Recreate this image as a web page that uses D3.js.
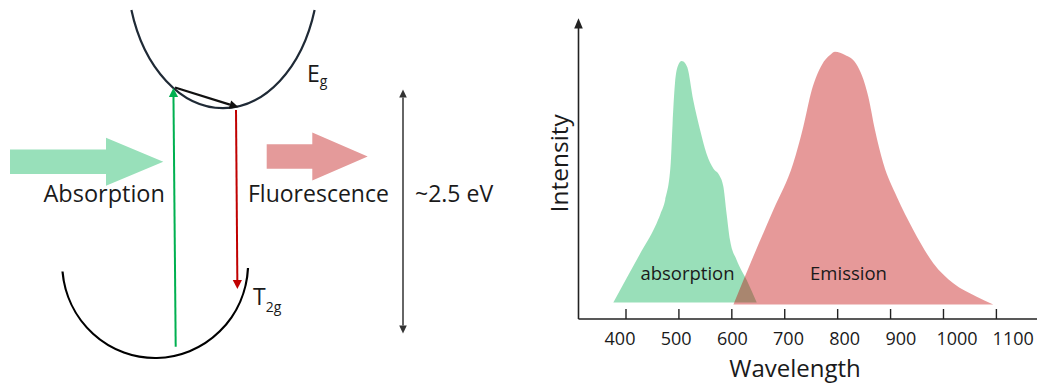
<!DOCTYPE html>
<html>
<head>
<meta charset="utf-8">
<script src="https://cdn.jsdelivr.net/npm/d3@7"></script>
<style>
  html, body { margin: 0; padding: 0; background: #fff; }
  svg { display: block; font-family: "Open Sans", "Noto Sans", sans-serif; }
</style>
</head>
<body>
<svg id="fig" width="1037" height="385"></svg>
<script>
// ---- spectrum data: [wavelength (nm), intensity (a.u.)] ----
const absorptionWavelength = [377, 427, 456, 466, 475, 485, 489, 493.5, 499.7, 506, 513, 517, 528, 541, 553, 566, 577, 585, 591, 597.5, 610, 629, 648];
const absorptionIntensity  = [5.5, 21.6, 30.8, 35, 39.7, 50.8, 65.2, 78.6, 84.7, 86, 85.2, 83.8, 73, 63, 55.2, 50.2, 48, 44.1, 35.2, 26.3, 19.7, 13, 5.5];
const absorptionBase = 5.5;

const emissionWavelength = [604, 641.5, 679.3, 717, 736, 752, 771, 786.5, 796, 815, 835.5, 858.9, 871.5, 887.2, 912.5, 943.9, 981.7, 1019.5, 1063.8, 1095];
const emissionIntensity  = [4.8, 20.8, 36.3, 51.9, 64.1, 76.3, 84.7, 88, 89.1, 88, 85.2, 74.1, 63, 51.9, 40.8, 29.7, 18.6, 11.9, 7.4, 4.8];
const emissionBase = 4.8;

const wavelengthTicks = [400, 500, 600, 700, 800, 900, 1000, 1100];

const svg = d3.select("#fig");
const ink = "#1a1a1a";

// ================= energy-level diagram (left) =================
const diag = svg.append("g");

// Block arrows for incoming light and emitted light
function blockArrow(g, x0, xNeck, xTip, yMid, shaftHalf, headHalf, fill) {
  const pts = [
    [x0, yMid - shaftHalf], [xNeck, yMid - shaftHalf], [xNeck, yMid - headHalf],
    [xTip, yMid], [xNeck, yMid + headHalf], [xNeck, yMid + shaftHalf], [x0, yMid + shaftHalf]
  ];
  g.append("path").attr("d", d3.line()(pts) + "Z").attr("fill", fill);
}
blockArrow(diag, 10, 106, 163.3, 161.7, 12.2, 24, "#98e0ba");
blockArrow(diag, 266.7, 312.3, 367.7, 156.5, 12.2, 24, "#e49a9a");

// Potential curves (elliptical wells)
diag.append("path")
  .attr("d", "M131.4,10 A96,140 0 0,0 314.6,10")
  .attr("fill", "none").attr("stroke", "#1f2a36").attr("stroke-width", 2.2);
diag.append("path")
  .attr("d", "M62.5,271.5 A93,95 0 0,0 248,268")
  .attr("fill", "none").attr("stroke", "#000").attr("stroke-width", 2.2);

// Straight arrow with a filled triangular head at the end point
function lineArrow(g, x1, y1, x2, y2, color, width, headLen, headHalf, both) {
  const dx = x2 - x1, dy = y2 - y1, L = Math.hypot(dx, dy);
  const ux = dx / L, uy = dy / L, nx = -uy, ny = ux;
  const sx = both ? x1 + ux * headLen : x1, sy = both ? y1 + uy * headLen : y1;
  g.append("line")
    .attr("x1", sx).attr("y1", sy)
    .attr("x2", x2 - ux * headLen).attr("y2", y2 - uy * headLen)
    .attr("stroke", color).attr("stroke-width", width);
  const head = (tx, ty, ax, ay) => {
    const bx = tx - ax * headLen, by = ty - ay * headLen;
    g.append("path")
      .attr("d", d3.line()([[tx, ty], [bx + nx * headHalf, by + ny * headHalf], [bx - nx * headHalf, by - ny * headHalf]]) + "Z")
      .attr("fill", color);
  };
  head(x2, y2, ux, uy);
  if (both) head(x1, y1, -ux, -uy);
}
lineArrow(diag, 175.7, 346.7, 173.4, 88, "#00b050", 2, 9, 4.6, false);
lineArrow(diag, 236, 110, 237.4, 289, "#c00000", 2, 9, 4.6, false);
lineArrow(diag, 175, 87.5, 238.5, 107.3, "#111", 2.2, 9, 4.3, false);
lineArrow(diag, 403, 333.5, 403, 89.5, "#333", 1.5, 8, 3.8, true);

// Labels
const label = (x, y, t, size) => diag.append("text")
  .attr("x", x).attr("y", y).attr("font-size", size).attr("fill", ink).text(t);
label(43.5, 201.5, "Absorption", 23.5);
label(248, 201.5, "Fluorescence", 23);
label(415, 201.5, "~2.5 eV", 23);

const eg = diag.append("text").attr("x", 307).attr("y", 81.7).attr("font-size", 23).attr("fill", ink);
eg.append("tspan").text("E");
eg.append("tspan").attr("font-size", 14).attr("dy", 4.5).text("g");

const t2g = diag.append("text").attr("x", 253).attr("y", 305).attr("font-size", 23).attr("fill", ink);
t2g.append("tspan").text("T");
t2g.append("tspan").attr("font-size", 14).attr("dy", 6.5).text("2g");

// ================= spectra (right) =================
const x = d3.scaleLinear().domain([400, 1100]).range([625.5, 995.9]);
const xLabel = d3.scaleLinear().domain([400, 1100]).range([619.5, 1012.7]);
const y = d3.scaleLinear().domain([0, 100]).range([319, 19]);
const axisLeftX = 578.5;

const absorption = absorptionWavelength.map((w, i) => ({ w, v: absorptionIntensity[i] }));
const emission = emissionWavelength.map((w, i) => ({ w, v: emissionIntensity[i] }));

const areaFor = base => d3.area()
  .x(d => x(d.w)).y0(y(base)).y1(d => y(d.v))
  .curve(d3.curveMonotoneX);

const plot = svg.append("g");
plot.append("path").datum(absorption).attr("d", areaFor(absorptionBase))
  .attr("fill", "rgb(0,176,80)").attr("fill-opacity", 0.4);
plot.append("path").datum(emission).attr("d", areaFor(emissionBase))
  .attr("fill", "rgb(192,0,0)").attr("fill-opacity", 0.4);

plot.append("text").attr("x", 687.5).attr("y", 280).attr("text-anchor", "middle")
  .attr("font-size", 18.5).attr("fill", ink).text("absorption");
plot.append("text").attr("x", 848.5).attr("y", 280).attr("text-anchor", "middle")
  .attr("font-size", 18.5).attr("fill", ink).text("Emission");

// Axes
const axisColor = "#222";
plot.append("line").attr("x1", axisLeftX).attr("x2", 1037).attr("y1", y(0)).attr("y2", y(0))
  .attr("stroke", axisColor).attr("stroke-width", 1.6);
plot.append("line").attr("x1", axisLeftX).attr("x2", axisLeftX).attr("y1", y(0)).attr("y2", y(100) + 9)
  .attr("stroke", axisColor).attr("stroke-width", 1.6);
plot.append("path")
  .attr("d", d3.line()([[axisLeftX, y(100) - 0.7], [axisLeftX - 4.3, y(100) + 9.5], [axisLeftX + 4.3, y(100) + 9.5]]) + "Z")
  .attr("fill", axisColor);

const tickAxis = plot.append("g").attr("transform", `translate(0,${y(0)})`)
  .call(d3.axisBottom(x).tickValues(wavelengthTicks).tickSize(-10).tickFormat(""));
tickAxis.select(".domain").remove();
tickAxis.selectAll(".tick line").attr("stroke", axisColor).attr("stroke-width", 1.4);

const labelAxis = plot.append("g").attr("transform", `translate(0,${y(0)})`)
  .call(d3.axisBottom(xLabel).tickValues(wavelengthTicks).tickSize(0).tickPadding(13.3).tickFormat(d3.format("d")));
labelAxis.select(".domain").remove();
labelAxis.selectAll(".tick text")
  .attr("font-family", "'Open Sans', 'Noto Sans', sans-serif")
  .attr("font-size", 18).attr("fill", ink);

plot.append("text").attr("x", 795).attr("y", 377).attr("text-anchor", "middle")
  .attr("font-size", 24).attr("fill", ink).text("Wavelength");
plot.append("text").attr("transform", "translate(568,163.3) rotate(-90)")
  .attr("text-anchor", "middle").attr("font-size", 24.5).attr("fill", ink).text("Intensity");
</script>
</body>
</html>
